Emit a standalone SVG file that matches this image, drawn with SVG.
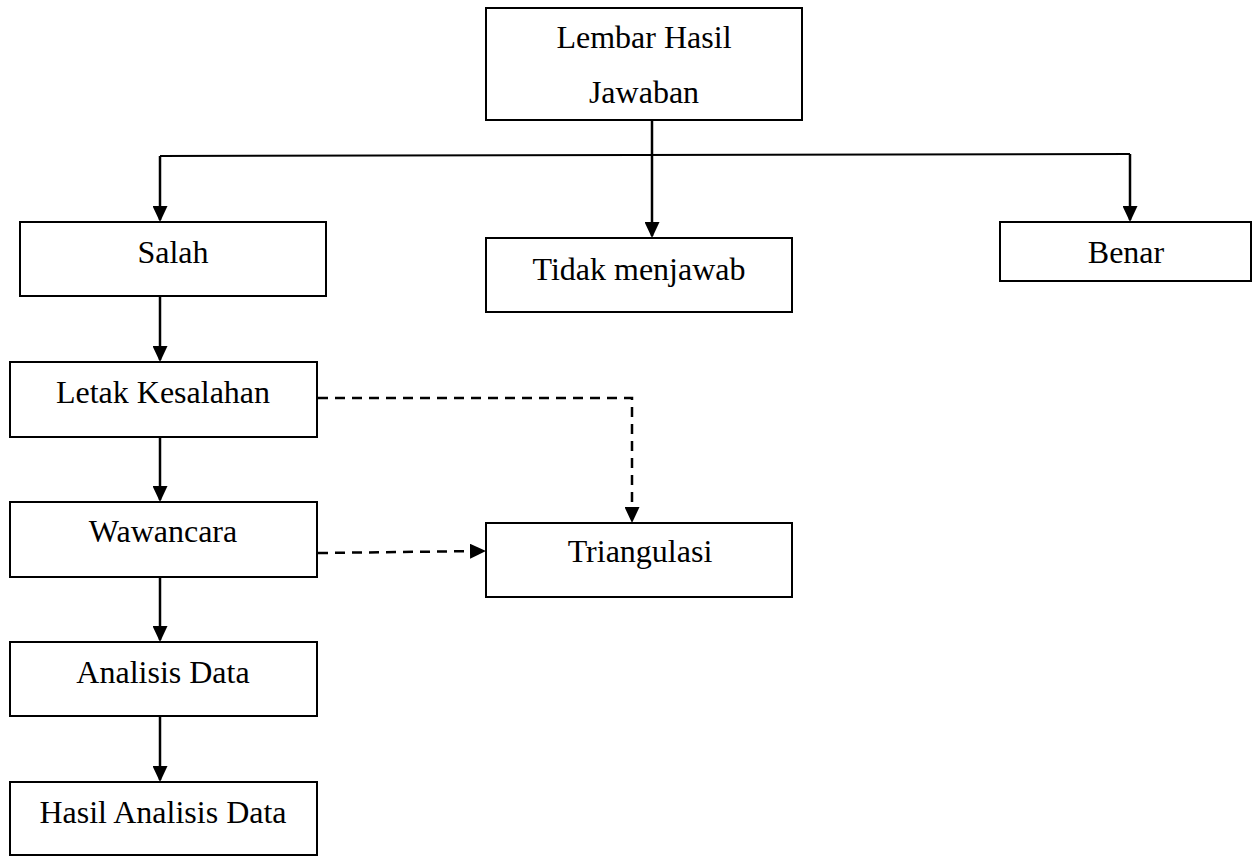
<svg xmlns="http://www.w3.org/2000/svg" width="1259" height="856" viewBox="0 0 1259 856">
  <style>
    .box { fill: #ffffff; stroke: #000000; stroke-width: 2; }
    .label { font-family: "Liberation Serif", "Times New Roman", serif; font-size: 32px; fill: #000000; text-anchor: middle; }
    .link { fill: none; stroke: #000000; stroke-width: 2.5; }
    .thin { fill: none; stroke: #000000; stroke-width: 2; }
    .dash { fill: none; stroke: #000000; stroke-width: 2.5; stroke-dasharray: 10 7; }
  </style>
  <defs>
    <marker id="arrow" viewBox="0 0 16 15" markerWidth="16" markerHeight="15" refX="14" refY="7.5" orient="auto" markerUnits="userSpaceOnUse">
      <path d="M0,0 L16,7.5 L0,15 Z" fill="#000000"/>
    </marker>
  </defs>

  <rect width="1259" height="856" fill="#ffffff"/>

  <!-- connectors -->
  <g id="connectors">
    <!-- Lembar Hasil Jawaban branches -->
    <path class="link" d="M652,121 L652,236" marker-end="url(#arrow)"/>
    <path class="thin" d="M160,156 L1130,154"/>
    <path class="link" d="M160,156 L160,220" marker-end="url(#arrow)"/>
    <path class="link" d="M1130,154 L1130,220" marker-end="url(#arrow)"/>
    <!-- main chain -->
    <path class="link" d="M160,297 L160,360" marker-end="url(#arrow)"/>
    <path class="link" d="M160,437 L160,500" marker-end="url(#arrow)"/>
    <path class="link" d="M160,577 L160,640" marker-end="url(#arrow)"/>
    <path class="link" d="M160,717 L160,780" marker-end="url(#arrow)"/>
    <!-- dashed links to Triangulasi -->
    <path class="dash" d="M318,398 L632,398 L632,521" marker-end="url(#arrow)"/>
    <path class="dash" d="M318,553 L484,551" marker-end="url(#arrow)"/>
  </g>

  <g id="node-lembar">
    <rect class="box" x="486" y="8" width="316" height="112"/>
    <text class="label" x="644" y="48">Lembar Hasil</text>
    <text class="label" x="644" y="103">Jawaban</text>
  </g>

  <g id="node-salah">
    <rect class="box" x="20" y="222" width="306" height="74"/>
    <text class="label" x="173" y="263">Salah</text>
  </g>

  <g id="node-tidak">
    <rect class="box" x="486" y="238" width="306" height="74"/>
    <text class="label" x="639" y="280">Tidak menjawab</text>
  </g>

  <g id="node-benar">
    <rect class="box" x="1000" y="222" width="251" height="59"/>
    <text class="label" x="1126" y="263">Benar</text>
  </g>

  <g id="node-letak">
    <rect class="box" x="10" y="362" width="307" height="75"/>
    <text class="label" x="163" y="403">Letak Kesalahan</text>
  </g>

  <g id="node-wawancara">
    <rect class="box" x="10" y="502" width="307" height="75"/>
    <text class="label" x="163" y="542">Wawancara</text>
  </g>

  <g id="node-triangulasi">
    <rect class="box" x="486" y="523" width="306" height="74"/>
    <text class="label" x="640" y="562">Triangulasi</text>
  </g>

  <g id="node-analisis">
    <rect class="box" x="10" y="642" width="307" height="74"/>
    <text class="label" x="163" y="683">Analisis Data</text>
  </g>

  <g id="node-hasil">
    <rect class="box" x="10" y="782" width="307" height="73"/>
    <text class="label" x="163" y="823">Hasil Analisis Data</text>
  </g>
</svg>
